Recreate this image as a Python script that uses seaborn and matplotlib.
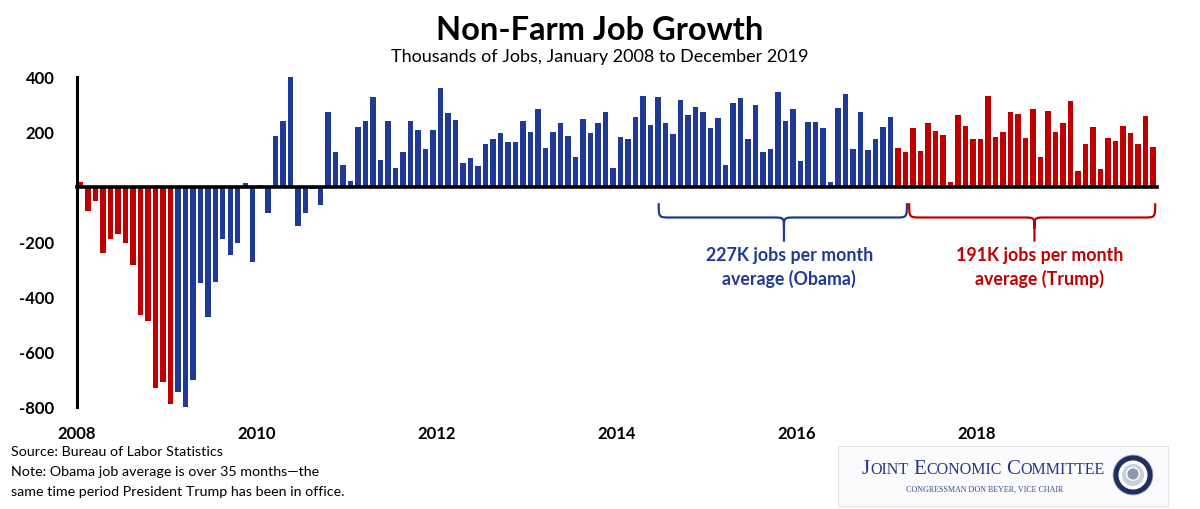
import matplotlib
matplotlib.use("Agg")
import matplotlib.pyplot as plt
import seaborn as sns
import numpy as np
import pandas as pd
from matplotlib.path import Path
from matplotlib.patches import PathPatch, Circle, FancyBboxPatch

# monthly change in payrolls, thousands (Jan 2008 - Dec 2019)
bush_jobs = [17, -87, -53, -241, -190, -172, -205, -285, -467, -488, -733, -711, -790]
obama_jobs = [-748, -802, -702, -350, -473, -348, -190, -248, -205, 13, -275, 6,
              -96, 183, 240, 398, -142, -95, -10, -65, 273, 127, 79,
              22, 216, 238, 327, 98, 240, 67, 127, 240, 207, 137, 207,
              358, 267, 242, 86, 103, 76, 155, 173, 194, 164, 164, 240,
              200, 282, 141, 198, 230, 185, 109, 246, 194, 230, 272, 69,
              180, 172, 253, 330, 223, 327, 230, 190, 314, 260, 290, 272,
              214, 251, 79, 303, 321, 172, 296, 126, 136, 344, 238, 281,
              93, 236, 236, 214, 18, 285, 338, 138, 273, 132, 172, 217,
              255]
trump_jobs = [142, 127, 212, 130, 230, 204, 188, 18, 261, 221, 175,
              172, 331, 182, 198, 270, 263, 178, 282, 109, 276, 198, 230,
              312, 57, 154, 218, 63, 178, 167, 221, 194, 154, 258, 145]

years = [2008, 2010, 2012, 2014, 2016, 2018]
y_ticks = [-800, -600, -400, -200, 200, 400]
obama_label = "227K jobs per month\naverage (Obama)"
trump_label = "191K jobs per month\naverage (Trump)"

blue = "#1F3A96"
red = "#C00000"
navy = "#2B3784"

jobs = bush_jobs + obama_jobs + trump_jobs
period = (["red"] * len(bush_jobs) + ["blue"] * len(obama_jobs)
          + ["red2"] * len(trump_jobs))
df = pd.DataFrame({"pos": np.arange(len(jobs)), "jobs": jobs, "period": period})

sns.set_theme(style="white")
plt.rcParams["font.family"] = ["Lato", "DejaVu Sans"]
plt.rcParams["text.color"] = "black"
plt.rcParams["xtick.color"] = "black"
plt.rcParams["ytick.color"] = "black"

fig = plt.figure(figsize=(12, 5.1), dpi=100)
ax = fig.add_axes([76.7 / 1200, 1 - 407.7 / 510, 1080 / 1200, 330 / 510])

sns.barplot(data=df, x="pos", y="jobs", hue="period", orient="x",
            palette={"red": red, "blue": blue, "red2": red},
            dodge=False, width=0.68, saturation=1, legend=False,
            linewidth=0, ax=ax)

ax.set_xlim(-0.5, len(jobs) - 0.5)
ax.set_ylim(-800, 400)
ax.set_xlabel("")
ax.set_ylabel("")

# y axis
ax.set_yticks(y_ticks)
ax.set_yticklabels([str(v) for v in y_ticks], fontsize=12, fontweight="bold")
ax.tick_params(axis="y", direction="out", length=4, width=2.2, pad=12, color="black")
ax.spines["left"].set_linewidth(2.2)
ax.spines["left"].set_color("black")
for s in ["top", "right"]:
    ax.spines[s].set_visible(False)

# zero line with yearly ticks
ax.spines["bottom"].set_position(("data", 0))
ax.spines["bottom"].set_linewidth(2.6)
ax.spines["bottom"].set_color("black")
ax.spines["bottom"].set_zorder(5)
ax.set_xticks(np.arange(-0.5, len(jobs), 12))
ax.tick_params(axis="x", direction="in", length=4, width=2.2, color="black",
               labelbottom=False)

# year labels at the bottom
sec = ax.secondary_xaxis("bottom")
sec.set_xticks([-0.5 + 12 * (y - 2008) for y in years])
sec.set_xticklabels([str(y) for y in years], fontsize=12, fontweight="bold")
sec.tick_params(length=0, pad=13)
sec.spines["bottom"].set_visible(False)


def brace(x0, x1, xm, color):
    ytop, yline, ytip = -60, -112, -200
    r = 1.5
    d = 40
    verts = [(x0, ytop), (x0, yline), (x0, yline), (x0 + r, yline),
             (xm - r, yline),
             (xm, yline), (xm, yline), (xm, yline - d),
             (xm, ytip),
             (xm, yline - d),
             (xm, yline), (xm, yline), (xm + r, yline),
             (x1 - r, yline),
             (x1, yline), (x1, yline), (x1, ytop)]
    codes = [Path.MOVETO, Path.CURVE4, Path.CURVE4, Path.CURVE4,
             Path.LINETO,
             Path.CURVE4, Path.CURVE4, Path.CURVE4,
             Path.LINETO,
             Path.MOVETO,
             Path.CURVE4, Path.CURVE4, Path.CURVE4,
             Path.LINETO,
             Path.CURVE4, Path.CURVE4, Path.CURVE4]
    ax.add_patch(PathPatch(Path(verts, codes), fill=False, edgecolor=color,
                           linewidth=1.6, clip_on=False))


brace(77.1, 110.2, 93.8, blue)
brace(110.5, 143.3, 127.2, red)
ax.text(94.5, -290, obama_label, color=blue, fontsize=12.8, fontweight="bold",
        ha="center", va="center", linespacing=1.45)
ax.text(127.9, -290, trump_label, color=red, fontsize=12.8, fontweight="bold",
        ha="center", va="center", linespacing=1.45)

# titles
fig.text(0.5, 1 - 30 / 510, "Non-Farm Job Growth", fontsize=23.5, fontweight="bold",
         ha="center", va="center")
fig.text(0.5, 1 - 57 / 510, "Thousands of Jobs, January 2008 to December 2019",
         fontsize=13, ha="center", va="center")

# footer notes
fig.text(11 / 1200, 1 - 452 / 510, "Source: Bureau of Labor Statistics",
         fontsize=10.3, va="center")
fig.text(11 / 1200, 1 - 472 / 510, "Note: Obama job average is over 35 months\u2014the",
         fontsize=10.3, va="center")
fig.text(11 / 1200, 1 - 492 / 510, "same time period President Trump has been in office.",
         fontsize=10.3, va="center")

# committee logo block
fig.add_artist(FancyBboxPatch((838 / 1200, 1 - 507 / 510), 330 / 1200, 60 / 510,
                              boxstyle="square,pad=0", transform=fig.transFigure,
                              facecolor="#FBFBFD", edgecolor="#E2E2E8", linewidth=0.8,
                              zorder=-1))

renderer = fig.canvas.get_renderer()
cur = 862.0
base = 1 - 474 / 510
for word in ["JOINT", "ECONOMIC", "COMMITTEE"]:
    t = fig.text(cur / 1200, base, word[0], fontsize=15, family="Liberation Serif",
                 color=navy, va="baseline")
    cur = t.get_window_extent(renderer).x1
    t = fig.text(cur / 1200, base, word[1:], fontsize=11.5, family="Liberation Serif",
                 color=navy, va="baseline")
    cur = t.get_window_extent(renderer).x1 + 5
fig.text(985 / 1200, 1 - 492 / 510, "CONGRESSMAN DON BEYER, VICE CHAIR", fontsize=5.8,
         family="Liberation Serif", color="#3B4A93", ha="center", va="baseline")

seal = fig.add_axes([(1133 - 22) / 1200, 1 - (476 + 22) / 510, 44 / 1200, 44 / 510])
seal.set_aspect("equal")
seal.set_xlim(-1.05, 1.05)
seal.set_ylim(-1.05, 1.05)
seal.axis("off")
seal.add_patch(Circle((0, 0), 0.95, facecolor="#1F2F5E", edgecolor="#9AA3BD", linewidth=0.6))
seal.add_patch(Circle((0, 0), 0.66, facecolor="white"))
seal.add_patch(Circle((0, 0), 0.56, facecolor="#C9CFDD"))
seal.add_patch(Circle((0, 0.05), 0.3, facecolor="#8E97AE"))

fig.savefig("out.png", dpi=100, facecolor="white")
